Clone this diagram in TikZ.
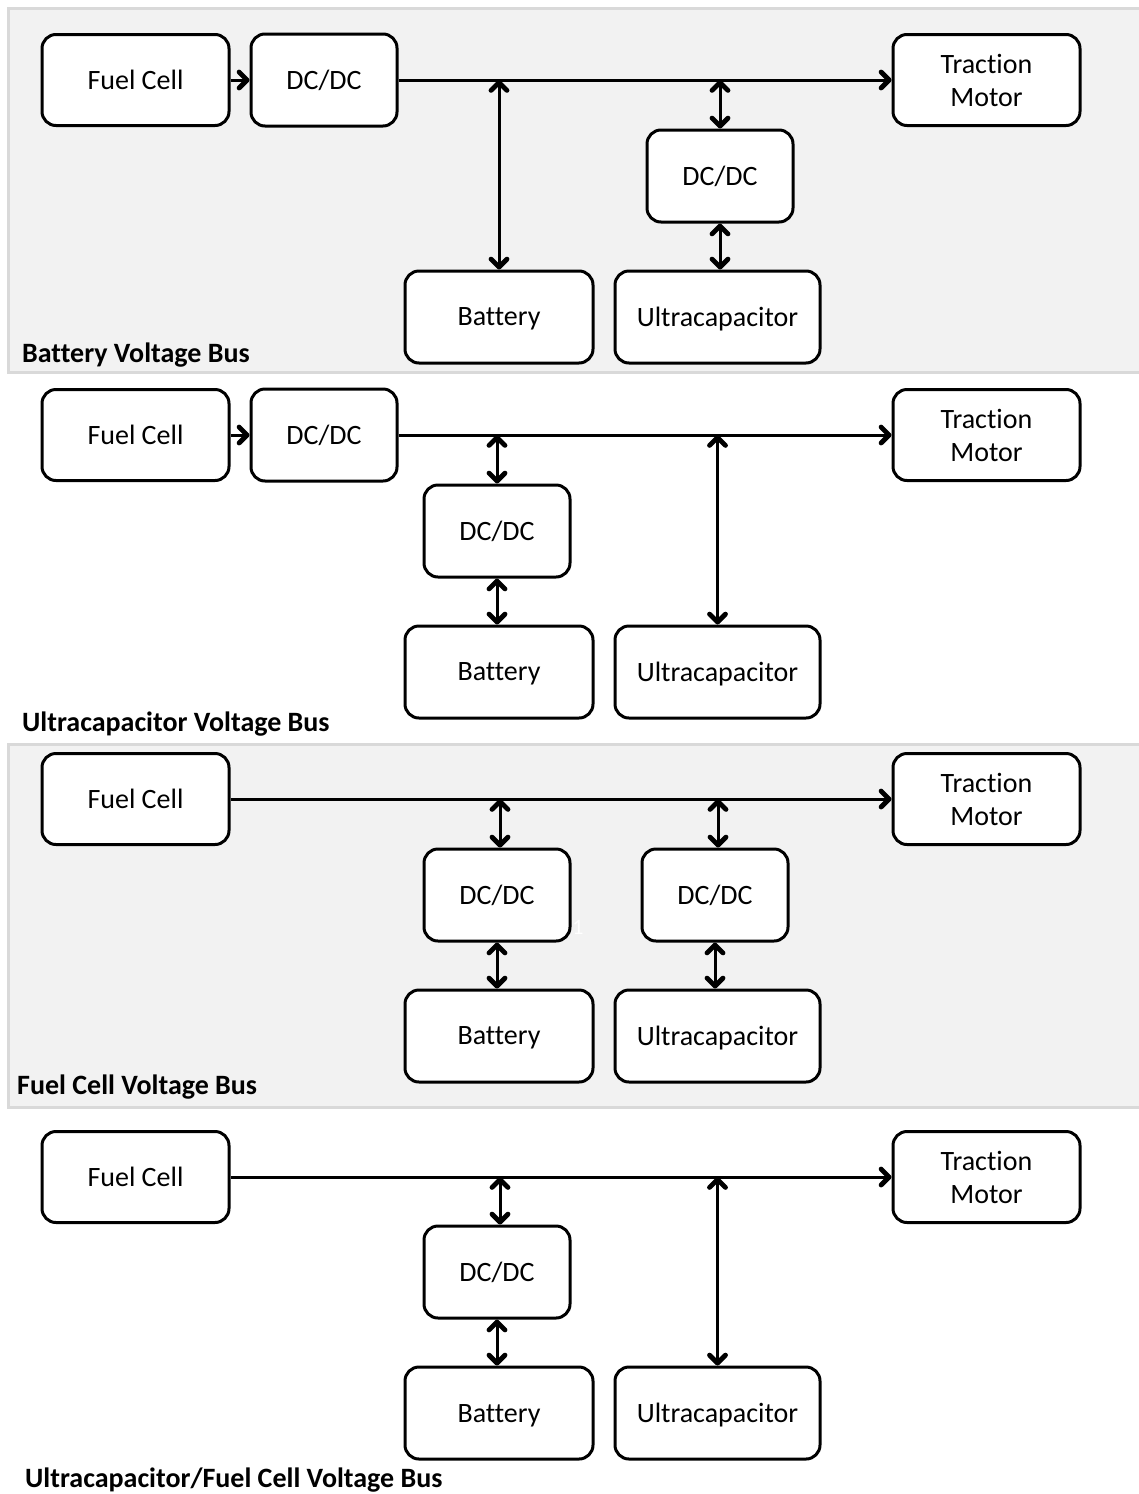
\documentclass[tikz,border=0pt]{standalone}
\usepackage{fontspec}
\setmainfont{Carlito}[Ligatures={NoCommon}]
\usetikzlibrary{arrows.meta}
\definecolor{panelfill}{HTML}{F2F2F2}
\definecolor{panelrule}{HTML}{D9D9D9}
\tikzset{
  block/.style={draw=black, line width=3pt, rounded corners=14pt, fill=white,
    align=center, inner sep=0pt, font=\fontsize{28}{33}\selectfont},
  fcbox/.style={block, minimum width=187pt, minimum height=91pt},
  convbox/.style={block, minimum width=146pt, minimum height=92pt},
  batbox/.style={block, text depth=0pt, minimum width=188pt, minimum height=92pt},
  ucbox/.style={block, text depth=0pt, minimum width=205pt, minimum height=92pt},
  panel/.style={fill=panelfill, draw=panelrule, line width=3pt},
  buslabel/.style={anchor=base west, inner sep=0pt, font=\fontsize{28}{33}\selectfont\bfseries},
  wire/.style={line width=3pt},
  barb/.tip={Straight Barb[length=8pt, width=16pt, line width=0pt 1.6, round]},
  flow/.style={wire, -barb},
  both/.style={wire, barb-barb}
}
\begin{document}
\begin{tikzpicture}[x=1pt, y=-1pt]
\clip (0,0) rectangle (1139,1494);
\fill[white] (0,0) rectangle (1139,1494);

% shaded backgrounds of the first and third topologies
\draw[panel] (8,8) rectangle (1150,372);
\draw[panel] (8,744) rectangle (1150,1107);

% ---------------- Battery voltage bus ----------------
\node[fcbox]   (fc1)  at (135.5,80)  {Fuel Cell};
\node[convbox] (dc1)  at (324,80)    {DC/DC};
\node[fcbox]   (tm1)  at (986.5,80)  {Traction\\Motor};
\node[convbox] (dcu1) at (720,176)   {DC/DC};
\node[batbox]  (bat1) at (499,317)   {Battery};
\node[ucbox]   (uc1)  at (717.5,317) {Ultracapacitor};
\coordinate (b1a) at (499,80);
\coordinate (b1b) at (720,80);
\draw[flow] (fc1.east) -- (dc1.west);
\draw[flow] (dc1.east) -- (tm1.west);
\draw[both] (b1a) -- (bat1.north);
\draw[both] (b1b) -- (dcu1.north);
\draw[both] (dcu1.south) -- (dcu1.south |- uc1.north);
\node[buslabel] (lab1) at (22,362) {Battery Voltage Bus};

% ---------------- Ultracapacitor voltage bus ----------------
\node[fcbox]   (fc2)  at (135.5,435) {Fuel Cell};
\node[convbox] (dc2)  at (324,435)   {DC/DC};
\node[fcbox]   (tm2)  at (986.5,435) {Traction\\Motor};
\node[convbox] (dcb2) at (497,531)   {DC/DC};
\node[batbox]  (bat2) at (499,672)   {Battery};
\node[ucbox]   (uc2)  at (717.5,672) {Ultracapacitor};
\coordinate (b2a) at (497,435);
\coordinate (b2b) at (717.5,435);
\draw[flow] (fc2.east) -- (dc2.west);
\draw[flow] (dc2.east) -- (tm2.west);
\draw[both] (b2a) -- (dcb2.north);
\draw[both] (dcb2.south) -- (dcb2.south |- bat2.north);
\draw[both] (b2b) -- (uc2.north);
\node[buslabel] (lab2) at (22,731) {Ultracapacitor Voltage Bus};

% ---------------- Fuel cell voltage bus ----------------
\node[fcbox]   (fc3)  at (135.5,799) {Fuel Cell};
\node[fcbox]   (tm3)  at (986.5,799) {Traction\\Motor};
\node[convbox] (dcb3) at (497,895)   {DC/DC};
\node[convbox] (dcu3) at (715,895)   {DC/DC};
\node[batbox]  (bat3) at (499,1036)  {Battery};
\node[ucbox]   (uc3)  at (717.5,1036){Ultracapacitor};
\coordinate (b3a) at (500,799);
\coordinate (b3b) at (718,799);
\draw[flow] (fc3.east) -- (tm3.west);
\draw[both] (b3a) -- (b3a |- dcb3.north);
\draw[both] (b3b) -- (b3b |- dcu3.north);
\draw[both] (dcb3.south) -- (dcb3.south |- bat3.north);
\draw[both] (dcu3.south) -- (dcu3.south |- uc3.north);
\node[white, inner sep=0pt, font=\fontsize{22}{26}\selectfont] (mark3) at (578,927) {1};
\node[buslabel] (lab3) at (17,1094) {Fuel Cell Voltage Bus};

% ---------------- Ultracapacitor/fuel cell voltage bus ----------------
\node[fcbox]   (fc4)  at (135.5,1177) {Fuel Cell};
\node[fcbox]   (tm4)  at (986.5,1177) {Traction\\Motor};
\node[convbox] (dcb4) at (497,1272)   {DC/DC};
\node[batbox]  (bat4) at (499,1413)   {Battery};
\node[ucbox]   (uc4)  at (717.5,1413) {Ultracapacitor};
\coordinate (b4a) at (500,1177);
\coordinate (b4b) at (717.5,1177);
\draw[flow] (fc4.east) -- (tm4.west);
\draw[both] (b4a) -- (b4a |- dcb4.north);
\draw[both] (dcb4.south) -- (dcb4.south |- bat4.north);
\draw[both] (b4b) -- (uc4.north);
\node[buslabel] (lab4) at (25,1487) {Ultracapacitor/Fuel Cell Voltage Bus};
\end{tikzpicture}
\end{document}
